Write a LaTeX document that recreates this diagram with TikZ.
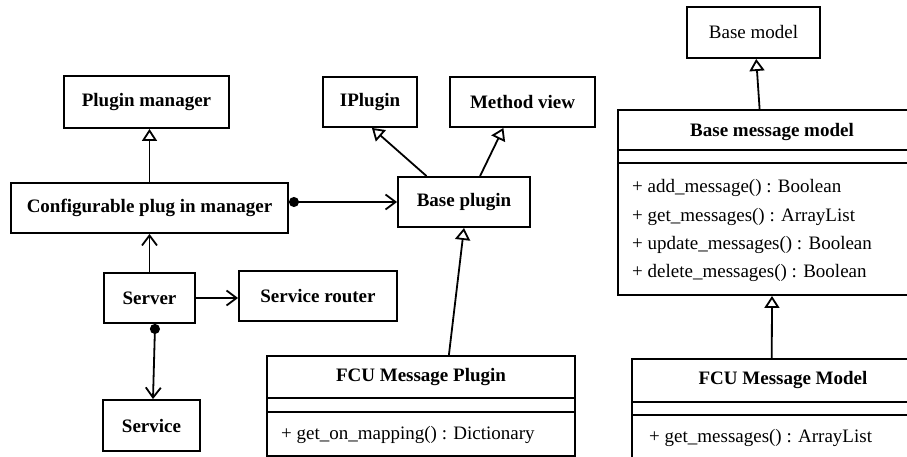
\documentclass[tikz,border=0pt]{standalone}
\usepackage{fontspec}
\setmainfont{Liberation Serif}
\usetikzlibrary{arrows.meta,calc}

\tikzset{
  cls/.style={draw, line width=1.9pt, inner sep=0pt, font=\fontsize{19}{22}\selectfont\bfseries},
  plain/.style={cls, font=\fontsize{19}{22}\selectfont},
  umlbox/.style={draw, line width=1.9pt, inner sep=0pt},
  title/.style={inner sep=0pt, font=\fontsize{19}{22}\selectfont\bfseries},
  member/.style={inner sep=0pt, anchor=west, font=\fontsize{19}{22}\selectfont},
  sep/.style={line width=1.9pt},
  link/.style={line width=1.8pt},
  inherit/.style={link, -{Triangle[open, length=12pt, width=15pt, line width=1.8pt]}},
  uses/.style={link, -{Straight Barb[length=10pt, width=15pt, line width=1.8pt]}},
  owns/.style={link, {Circle[length=10pt]}-{Straight Barb[length=10pt, width=15pt, line width=1.8pt]}}
}

\begin{document}
\begin{tikzpicture}[x=1pt, y=-1pt]
\useasboundingbox (0,0) rectangle (907,457);
\clip (0,0) rectangle (907,457);
\fill[white] (0,0) rectangle (907,457);

% simple boxes
\node[cls, minimum width=165pt, minimum height=52pt] (pm)  at (146.5,102) {Plugin manager};
\node[cls, minimum width=277pt, minimum height=50pt] (cpm) at (149.5,208) {Configurable plug in manager};
\node[cls, minimum width=94pt,  minimum height=50pt] (ip)  at (370,102)   {IPlugin};
\node[cls, minimum width=145pt, minimum height=50pt] (mv)  at (522.5,102) {Method view};
\node[cls, minimum width=132pt, minimum height=50pt] (bp)  at (464,202)   {Base plugin};
\node[plain, minimum width=133pt, minimum height=51pt] (bm) at (753.5,32.5) {Base model};
\node[cls, minimum width=91pt,  minimum height=50pt] (srv) at (149.5,298) {Server};
\node[cls, minimum width=158pt, minimum height=50pt] (sr)  at (318,296)   {Service router};
\node[cls, minimum width=97pt,  minimum height=51pt] (svc) at (151.5,425.5) {Service};

% class: Base message model
\node[umlbox, minimum width=308pt, minimum height=185pt] (bmm) at (772,202.5) {};
\node[title] (bmmt) at (772,132) {Base message model};
\draw[sep] (bmm.west |- 0,150) -- (bmm.east |- 0,150);
\draw[sep] (bmm.west |- 0,163) -- (bmm.east |- 0,163);
\node[member] (bmm1) at (632,188) {+ add\_message() : Boolean};
\node[member] (bmm2) at (632,216.5) {+ get\_messages() : ArrayList};
\node[member] (bmm3) at (632,245) {+ update\_messages() : Boolean};
\node[member] (bmm4) at (632,273) {+ delete\_messages() : Boolean};

% class: FCU Message Plugin
\node[umlbox, minimum width=308pt, minimum height=100pt] (fp) at (421,406) {};
\node[title] (fpt) at (421,377) {FCU Message Plugin};
\draw[sep] (fp.west |- 0,398) -- (fp.east |- 0,398);
\draw[sep] (fp.west |- 0,412) -- (fp.east |- 0,412);
\node[member] (fp1) at (281,435) {+ get\_on\_mapping() : Dictionary};

% class: FCU Message Model
\node[umlbox, minimum width=302pt, minimum height=120pt] (fm) at (783,419) {};
\node[title] (fmt) at (783,380) {FCU Message Model};
\draw[sep] (fm.west |- 0,402) -- (fm.east |- 0,402);
\draw[sep] (fm.west |- 0,415) -- (fm.east |- 0,415);
\node[member] (fm1) at (649,438) {+ get\_messages() : ArrayList};

% relations
\draw[inherit] (cpm.north) -- (cpm.north |- pm.south);
\draw[owns] (bp.west -| cpm.east) -- (bp.west);
\draw[uses] (srv.north) -- (srv.north |- cpm.south);
\draw[uses] (srv.east) -- (srv.east -| sr.west);
\draw[owns] ($(srv.south west)!.56!(srv.south east)$) -- ($(svc.north west)!.515!(svc.north east)$);
\draw[inherit] ($(bp.north west)!.22!(bp.north east)$) -- ($(ip.south west)!.52!(ip.south east)$);
\draw[inherit] ($(bp.north west)!.62!(bp.north east)$) -- ($(mv.south west)!.37!(mv.south east)$);
\draw[inherit] ($(fp.north west)!.59!(fp.north east)$) -- (bp.south);
\draw[inherit] ($(bmm.north west)!.46!(bmm.north east)$) -- ($(bm.south west)!.52!(bm.south east)$);
\draw[inherit] ($(fm.north west)!.463!(fm.north east)$) -- (bmm.south);
\end{tikzpicture}
\end{document}
